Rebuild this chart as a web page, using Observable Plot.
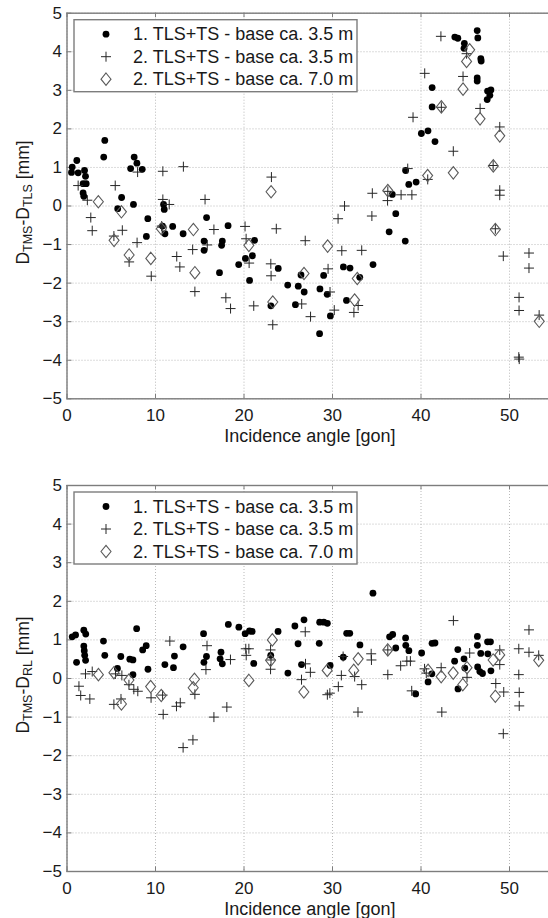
<!DOCTYPE html>
<html><head><meta charset="utf-8">
<script src="https://cdn.jsdelivr.net/npm/d3@7"></script>
<script src="https://cdn.jsdelivr.net/npm/@observablehq/plot@0.6"></script>
<style>
html,body{margin:0;padding:0;background:#fff;overflow:hidden;width:548px;height:918px;}
#chart svg{display:block;max-width:none !important;}
</style></head><body><div id="chart"></div>
<script>
const xTicks = [0, 10, 20, 30, 40, 50];
const yTicks = [-5, -4, -3, -2, -1, 0, 1, 2, 3, 4, 5];
const seriesNames = ["1. TLS+TS - base ca. 3.5 m", "2. TLS+TS - base ca. 3.5 m", "2. TLS+TS - base ca. 7.0 m"];
const xLabel = "Incidence angle [gon]";
const yLabelTop = ["TMS", "TLS"];
const yLabelBottom = ["TMS", "RL"];

// Top panel: D_TMS - D_TLS
const topS1 = [[0.59,1.01],[0.51,0.87],[1.11,1.18],[1.26,0.86],[1.98,0.92],[2.09,0.77],[1.82,0.58],[2.17,0.58],[1.82,0.34],[1.9,0.25],[4.27,1.70],[4.15,1.27],[7.59,1.27],[7.9,1.11],[7.19,0.97],[8.5,0.95],[5.73,-0.07],[6.17,0.22],[7.51,0.04],[9.13,-0.33],[10.91,0.04],[10.99,-0.09],[10.79,-0.52],[15.77,-0.30],[18.2,-0.51],
[8.97,-0.79],[11.07,-0.72],[11.94,-0.53],[13.12,-0.72],[15.49,-0.91],[15.49,-1.15],[17.55,-0.91],[17.47,-1.02],[17.23,-1.73],[19.4,-1.52],[20.16,-1.36],[20.95,-1.29],[21.19,-0.89],[20.63,-1.93],[23.87,-1.62],[23.04,-2.59],[24.94,-2.05],[26.13,-2.08],[25.81,-2.56],[26.44,-1.79],[26.8,-2.23],[28.54,-3.31],[28.58,-2.15],[29.0,-1.80],[29.4,-2.29],[29.76,-2.85],[31.23,-1.58],[31.98,-1.61],[31.58,-2.45],[33.08,-1.85],[34.58,-1.52],[36.4,-0.67],[38.22,-0.91],
[36.76,0.30],[37.15,-0.20],[38.26,0.92],[38.62,0.56],[39.45,0.62],[40.04,1.88],[40.79,1.95],[41.58,1.67],[41.26,2.57],[41.26,3.07],
[43.82,4.38],[44.16,4.35],[44.9,4.22],[44.86,4.09],[46.35,4.55],[46.42,4.36],[46.76,3.82],[46.8,3.76],[46.35,3.32],[46.35,3.24],[47.9,3.01],[47.52,2.98],[47.78,2.87],[47.48,2.76]];
const topS2 = [[1.26,0.53],[2.3,0.15],[2.69,-0.30],[5.45,0.53],[7.98,0.88],[10.83,0.90],[13.15,1.02],[10.83,0.17],[11.55,0.04],[15.6,0.17],[23.1,0.75],[30.63,-0.33],[31.36,0.00],[34.5,0.33],[34.45,-0.26],[36.22,0.14],[37.75,0.29],[38.97,0.29],[38.5,0.97],[39.1,2.30],[40.42,3.44],[42.25,4.40],[43.65,1.42],[44.75,3.36],[45.15,3.95],[46.68,2.53],[48.9,2.05],[48.9,0.41],[48.9,0.28],[40.76,0.69],[42.3,2.56],[48.15,1.05],[36.25,0.38],[10.7,-0.52],
[2.85,-0.64],[5.3,-0.78],[6.25,-0.63],[7.92,-0.95],[7.02,-1.45],[9.52,-1.82],[10.75,-0.55],[12.4,-1.31],[12.75,-1.58],[14.2,-1.13],[14.45,-2.22],[16.6,-0.61],[15.85,-1.01],[17.95,-2.38],[18.48,-2.66],[20.12,-0.53],[20.24,-0.85],[20.58,-1.48],[21.1,-2.59],[23.03,-1.5],[23.06,-1.81],[23.25,-3.08],[23.65,-0.59],[26.52,-2.54],[26.92,-0.90],[27.52,-2.87],[29.5,-1.63],[29.72,-2.23],[30.2,-2.70],[31.05,-1.16],[32.42,-2.76],[32.9,-2.58],[33.3,-1.15],
[49.3,-1.30],[52.2,-1.22],[52.2,-1.61],[51.08,-2.37],[51.08,-2.71],[51.05,-3.92],[51.1,-3.97],[53.35,-2.83],[48.4,-0.59]];
const topS3 = [[3.54,0.11],[6.15,-0.15],[5.32,-0.89],[7.02,-1.27],[9.47,-1.36],[10.66,-0.59],[14.28,-0.61],[14.45,-1.73],[20.55,-1.02],[23.06,0.37],[23.25,-2.49],[26.78,-1.75],[29.45,-1.04],[32.8,-1.88],[32.5,-2.44],[36.25,0.40],[40.75,0.79],[42.3,2.57],[43.65,0.86],[44.75,3.03],[45.15,3.75],[45.5,4.05],[46.67,2.26],[48.9,1.82],[48.17,1.04],[48.4,-0.61],[53.36,-2.99]];

// Bottom panel: D_TMS - D_RL
const botS1 = [[0.59,1.08],[0.97,1.13],[1.9,1.25],[2.12,1.15],[1.08,0.42],[1.9,0.84],[1.95,0.72],[2.0,0.60],[2.1,0.47],[4.12,0.97],[4.27,0.60],[7.87,1.29],[8.95,0.85],[8.55,0.74],[6.08,0.57],[5.7,0.26],[7.1,0.50],[7.45,0.48],[7.45,0.10],[9.15,0.24],[11.06,0.36],[12.03,0.28],[12.14,0.58],[13.12,0.82],[15.43,1.16],[15.47,0.42],[15.76,0.57],[17.4,0.68],[17.3,0.51],[17.55,0.38],[18.23,1.40],[19.42,1.33],[20.13,1.16],[20.62,1.23],[20.92,1.22],[21.1,0.39],[23.02,0.60],[23.85,1.22],[24.96,0.14],[25.75,1.36],[26.11,0.90],[26.5,0.36],[26.78,1.52],[28.55,1.46],[29.02,1.46],[29.42,1.43],[28.5,0.91],[29.73,0.34],[31.22,0.55],[31.6,1.17],[31.95,1.17],[33.1,0.87],[34.57,2.21],[36.45,1.08],[36.8,1.14],[37.15,0.79],[38.26,1.05],[38.28,0.86],[38.63,0.72],[40.07,0.66],[41.25,0.91],[41.58,0.92],[41.23,0.12],[40.8,-0.09],[39.4,-0.40],[44.16,0.75],[43.8,0.45],[44.86,0.51],[44.95,0.27],[44.18,-0.27],[46.37,1.09],[46.37,0.86],[46.75,0.65],[46.4,0.30],[46.65,0.18],[46.95,0.13],[47.52,0.95],[47.85,0.95],[47.55,0.64],[47.9,0.20]];
const botS2 = [[1.35,-0.20],[1.55,-0.44],[2.58,-0.53],[2.09,0.12],[2.85,0.18],[5.3,-0.67],[6.1,-0.53],[5.48,0.12],[6.2,0.08],[7.0,-0.16],[7.55,-0.28],[8.0,-0.33],[9.5,-0.50],[10.8,-0.43],[10.87,-0.93],[11.62,0.97],[12.37,-0.72],[12.8,-0.63],[13.12,-1.79],[14.23,-1.59],[14.45,-0.41],[15.7,0.23],[15.82,0.85],[16.6,-1.00],[18.06,-0.74],[18.47,0.49],[20.2,0.77],[20.55,0.77],[20.25,0.60],[23.0,0.24],[23.0,0.74],[23.05,0.48],[26.92,1.21],[26.95,0.38],[26.5,-0.03],[27.5,0.16],[29.42,-0.42],[29.7,-0.38],[30.66,-0.21],[31.0,0.08],[31.2,0.57],[32.5,0.05],[32.88,-0.87],[33.3,-0.16],[34.37,0.64],[34.4,0.48],[36.25,0.10],[36.25,0.74],[37.7,0.33],[38.4,0.45],[38.8,0.45],[38.95,-0.32],[40.4,0.25],[40.6,0.14],[42.35,-0.87],[42.28,0.28],[43.66,1.50],[45.5,0.66],[45.2,0.03],[48.45,-0.13],[48.9,0.74],[48.9,0.36],[49.35,-0.35],[49.3,-1.43],[51.05,0.77],[51.05,0.10],[51.1,-0.36],[51.1,-0.71],[52.2,1.26],[52.2,0.68],[53.3,0.60]];
const botS3 = [[3.55,0.10],[5.3,0.15],[6.15,-0.66],[7.0,-0.04],[9.45,-0.21],[10.65,-0.44],[14.26,-0.24],[14.4,-0.02],[20.55,-0.05],[23.2,1.00],[23.0,0.47],[26.76,-0.35],[29.4,0.21],[32.4,0.21],[32.9,0.51],[36.25,0.74],[40.8,0.21],[42.28,0.05],[43.64,0.14],[44.72,-0.16],[45.2,0.28],[48.15,0.48],[48.9,0.61],[48.4,-0.46],[53.3,0.47]];

const FONT = "'Liberation Sans', Arial, Helvetica, sans-serif";
const TEXT = "#1a1a1a";
const AXIS = "#7d7d7d";

const plusSym = {draw(c) { const r = 5; c.moveTo(-r, 0); c.lineTo(r, 0); c.moveTo(0, -r); c.lineTo(0, r); }};
const diamondSym = {draw(c) { const w = 5, h = 6.2; c.moveTo(0, -h); c.lineTo(w, 0); c.lineTo(0, h); c.lineTo(-w, 0); c.closePath(); }};

function panel(s1, s2, s3, sub, mt, mb) {
  const W = 560, H = 459, ML = 66.5, MR = 6.75;
  const innerH = H - mt - mb, innerW = W - ML - MR;
  const obj = a => a.map(([x, y]) => ({x, y}));
  const svg = Plot.plot({
    width: W, height: H, marginLeft: ML, marginRight: MR, marginTop: mt, marginBottom: mb,
    style: {maxWidth: "none", fontFamily: FONT, color: TEXT, background: "#fff", overflow: "visible"},
    x: {domain: [0, 55], label: null},
    y: {domain: [-5, 5], label: null},
    marks: [
      Plot.gridX(xTicks, {stroke: "#b9b9b9", strokeOpacity: 1, strokeDasharray: "1,2"}),
      Plot.gridY(yTicks, {stroke: "#b9b9b9", strokeOpacity: 1, strokeDasharray: "1,2"}),
      Plot.tickX(xTicks, {x: d => d, insetTop: innerH - 4.5, stroke: AXIS, strokeWidth: 1}),
      Plot.tickX(xTicks, {x: d => d, insetBottom: innerH - 4.5, stroke: AXIS, strokeWidth: 1}),
      Plot.tickY(yTicks, {y: d => d, insetRight: innerW - 5, stroke: AXIS, strokeWidth: 1}),
      Plot.frame({stroke: AXIS, strokeWidth: 1.4}),
      Plot.axisX(xTicks, {tickSize: 0, tickPadding: 10, fontSize: 17, label: null, fill: TEXT}),
      Plot.axisY(yTicks, {tickSize: 0, tickPadding: 5, fontSize: 17, label: null, fill: TEXT}),
      Plot.dot(obj(s1), {x: "x", y: "y", r: 3.4, fill: "#000", stroke: "none"}),
      Plot.dot(obj(s2), {x: "x", y: "y", symbol: plusSym, fill: "none", stroke: "#262626", strokeWidth: 1}),
      Plot.dot(obj(s3), {x: "x", y: "y", symbol: diamondSym, fill: "none", stroke: "#5a5a5a", strokeWidth: 1.1})
    ]
  });
  const s = d3.select(svg);
  // legend
  const lx = 74, ly = mt + 7, lw = 283, lh = 72;
  const g = s.append("g").attr("font-family", FONT).attr("text-anchor", "start");
  g.append("rect").attr("x", lx).attr("y", ly).attr("width", lw).attr("height", lh)
    .attr("fill", "#fff").attr("stroke", AXIS).attr("stroke-width", 1.4);
  const rows = [ly + 14.5, ly + 37, ly + 59.5];
  const mx = 106;
  g.append("circle").attr("cx", mx).attr("cy", rows[0]).attr("r", 3.4).attr("fill", "#000");
  g.append("path").attr("transform", `translate(${mx},${rows[1]})`).attr("d", "M-5,0H5M0,-5V5").attr("stroke", "#262626").attr("fill", "none");
  g.append("path").attr("transform", `translate(${mx},${rows[2]})`).attr("d", "M0,-6.2L5,0L0,6.2L-5,0Z").attr("stroke", "#5a5a5a").attr("stroke-width", 1.1).attr("fill", "none");
  seriesNames.forEach((n, i) => {
    g.append("text").attr("x", 133).attr("y", rows[i]).attr("dominant-baseline", "central")
      .attr("text-anchor", "start").attr("font-size", 18).attr("fill", TEXT).text(n);
  });
  // x label
  s.append("text").attr("x", ML + innerW / 2).attr("y", mt + innerH + 37.5)
    .attr("text-anchor", "middle").attr("dominant-baseline", "central")
    .attr("font-family", FONT).attr("font-size", 18).attr("fill", TEXT).text(xLabel);
  // y label with subscripts
  const t = s.append("text").attr("transform", `translate(23,${mt + innerH / 2 - 3}) rotate(-90)`)
    .attr("text-anchor", "middle").attr("dominant-baseline", "central")
    .attr("font-family", FONT).attr("font-size", 17.5).attr("fill", TEXT);
  t.append("tspan").text("D");
  t.append("tspan").attr("font-size", 12.5).attr("dy", 4.5).text(sub[0]);
  t.append("tspan").attr("dy", -4.5).text("-D");
  t.append("tspan").attr("font-size", 12.5).attr("dy", 4.5).text(sub[1]);
  t.append("tspan").attr("dy", -4.5).text(" [mm]");
  return svg;
}

const root = document.getElementById("chart");
root.appendChild(panel(topS1, topS2, topS3, yLabelTop, 12.7, 60.7));
root.appendChild(panel(botS1, botS2, botS3, yLabelBottom, 26, 47));
</script></body></html>
